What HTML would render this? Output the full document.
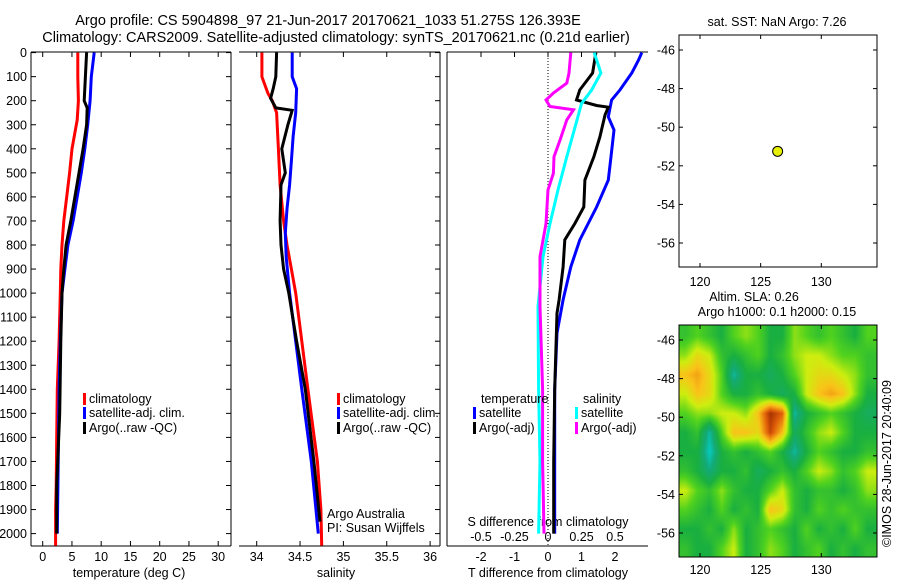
<!DOCTYPE html>
<html><head><meta charset="utf-8">
<style>
html,body{margin:0;padding:0;background:#fff;}
#wrap{position:relative;width:900px;height:580px;overflow:hidden;}
svg{position:absolute;left:0;top:0;}
text{font-family:"Liberation Sans",sans-serif;fill:#000;}
#heat{position:absolute;left:679px;top:325px;}
</style></head>
<body>
<div id="wrap">
<canvas id="heat" width="198" height="232"></canvas>
<svg id="chart" width="900" height="580"></svg>
</div>
<script>
// ---------- data ----------
const depthTicks = [0,100,200,300,400,500,600,700,800,900,1000,1100,1200,1300,1400,1500,1600,1700,1800,1900,2000];
const tempTicks = [0,5,10,15,20,25,30];
const salTicks = [34,34.5,35,35.5,36];
const salTickLabels = ["34","34.5","35","35.5","36"];
const tdiffTicks = [-2,-1,0,1,2];
const sdiffTicks = [-0.5,-0.25,0,0.25,0.5];
const sdiffLabels = ["-0.5","-0.25","0","0.25","0.5"];

const tClimD = [0,100,200,280,400,500,600,700,800,900,1000,1200,1400,1600,1800,1900,2050];
const tClim  = [6.0,6.0,6.1,5.9,5.0,4.6,4.1,3.6,3.3,3.1,3.0,2.8,2.5,2.4,2.3,2.2,2.2];
const tSatD  = [0,100,200,300,400,500,600,700,800,900,1000,1200,1400,1800,2000];
const tSat   = [8.8,8.3,8.1,7.7,7.2,6.6,5.9,5.2,4.3,3.8,3.3,3.0,2.8,2.6,2.5];
const tArgoD = [0,100,200,230,300,400,500,600,700,800,900,1000,1200,1500,1800,2000];
const tArgo  = [7.5,7.3,7.1,7.6,7.5,6.9,6.2,5.5,4.8,4.0,3.6,3.3,3.1,2.9,2.4,2.4];

const sClimD = [0,100,170,200,250,400,550,700,800,900,1000,1200,1400,1700,1900,2050];
const sClim  = [34.06,34.06,34.13,34.18,34.23,34.25,34.27,34.31,34.35,34.40,34.45,34.52,34.59,34.70,34.74,34.75];
const sSatD  = [0,100,150,250,350,450,550,650,750,850,1000,1200,1400,1700,2000];
const sSat   = [34.41,34.41,34.46,34.45,34.42,34.40,34.38,34.35,34.33,34.34,34.38,34.45,34.52,34.63,34.71];
const sArgoD = [0,100,150,190,230,240,300,400,500,550,700,800,900,1000,1200,1400,1700,1950];
const sArgo  = [34.23,34.22,34.19,34.16,34.22,34.41,34.36,34.29,34.33,34.28,34.27,34.28,34.31,34.37,34.46,34.56,34.66,34.73];

const dTSatD  = [0,31,85,155,197,267,322,433,530,642,779,891,1028,1166,1400,1700,2000];
const dTSat   = [2.8,2.7,2.5,2.15,1.9,1.8,1.97,1.88,1.8,1.45,0.95,0.68,0.45,0.27,0.2,0.2,0.2];
const dTArgoD = [0,85,155,197,220,227,260,350,433,530,642,711,779,891,1028,1083,1400,1700,2000];
const dTArgo  = [1.43,1.33,0.95,0.85,1.45,1.8,1.7,1.55,1.37,1.1,1.07,0.8,0.5,0.45,0.33,0.27,0.2,0.17,0.17];
const dSSatD  = [0,85,155,212,294,433,571,711,849,1056,1400,1700,2000];
const dSSat   = [0.345,0.395,0.326,0.25,0.21,0.14,0.075,0.015,-0.037,-0.075,-0.07,-0.06,-0.07];
const dSArgoD = [0,85,127,168,197,224,238,280,363,433,502,571,711,849,1056,1400,1700,2000];
const dSArgo  = [0.17,0.157,0.14,0.04,-0.015,0.015,0.19,0.14,0.09,0.045,0.04,0,-0.015,-0.06,-0.06,-0.04,-0.04,-0.03];

const lonTicks = [120,125,130];
const latTicks = [-46,-48,-50,-52,-54,-56];
const floatLon = [126.4];
const floatLat = [-51.25];

const slaLons = [118.8,119.8,120.8,121.8,122.8,123.8,124.8,125.8,126.8,127.8,128.8,129.8,130.8,131.8,132.8,133.8];
const slaLats = [-45.8,-46.8,-47.8,-48.8,-49.8,-50.8,-51.8,-52.8,-53.8,-54.8,-55.8,-56.8];
const slaGrid = [
 [0.05,0.1,0.05,0.0,0.1,0.15,0.1,0.0,0.0,0.15,0.1,0.05,0.1,0.05,0.0,0.1],
 [0.15,0.25,0.2,0.05,0.0,0.05,0.1,0.0,0.05,0.15,0.2,0.2,0.15,0.1,0.1,0.05],
 [0.3,0.35,0.25,0.1,-0.15,0.0,0.0,-0.05,0.0,0.1,0.2,0.25,0.25,0.2,0.15,0.05],
 [0.2,0.3,0.25,0.1,0.0,0.0,0.05,0.0,-0.05,0.0,0.2,0.3,0.35,0.3,0.15,0.0],
 [0.1,0.15,0.15,0.2,0.2,0.15,0.3,0.55,0.45,-0.15,0.0,0.05,0.1,0.05,0.0,-0.05],
 [0.0,0.05,-0.15,0.1,0.3,0.3,0.25,0.5,0.3,-0.05,0.05,0.15,0.2,0.1,0.0,0.0],
 [0.0,0.0,-0.2,0.0,0.05,0.0,0.05,0.1,0.0,-0.15,0.0,0.1,0.05,0.0,0.0,0.05],
 [0.05,0.0,-0.1,0.0,0.0,0.05,-0.05,0.0,0.05,0.0,0.1,0.2,0.15,0.05,0.1,0.2],
 [0.2,0.1,0.05,0.15,0.05,0.0,0.0,0.1,0.2,0.05,0.0,0.05,0.05,0.0,0.05,0.15],
 [0.1,0.05,0.0,0.1,0.0,0.05,0.0,0.3,0.25,0.05,0.0,0.1,0.05,0.1,0.05,0.05],
 [0.0,0.0,0.05,0.0,0.15,0.0,0.05,0.1,0.05,0.0,0.1,0.0,0.05,0.0,0.1,0.0],
 [0.05,0.0,0.0,0.1,0.2,0.0,0.05,0.15,0.1,0.0,0.05,0.1,0.0,0.05,0.0,0.05]
];

// ---------- scales ----------
const yD = d => 52.6 + d*0.2405;
const xT = t => 42.7 + t*5.85;
const xS = s => 256.7 + (s-34)*86.7;
const xDT = v => 548 + v*33.5;
const xDS = v => 548 + v*134;
const xLon = l => 700 + (l-120)*12.13;
const yLat1 = a => 50 + (-46-a)*19.3;
const yLat2 = a => 340 + (-46-a)*19.3;

const svg = document.getElementById('chart');
const NS = 'http://www.w3.org/2000/svg';
function mk(tag, attrs, parent){
  const e = document.createElementNS(NS, tag);
  for (const k in attrs) e.setAttribute(k, attrs[k]);
  (parent||svg).appendChild(e);
  return e;
}
function txt(x,y,s,size,anchor,name){
  const e = mk('text',{x:x,y:y,'font-size':size,'text-anchor':anchor||'start'});
  e.textContent = s;
  
  
  return e;
}
function line(x1,y1,x2,y2,name,extra){
  const e = mk('line',Object.assign({x1:x1,y1:y1,x2:x2,y2:y2,stroke:'#000','stroke-width':1},extra||{}));
  
  
  return e;
}
function profile(xs, ds, xf, color, name){
  const pts = xs.map((v,i)=> xf(v).toFixed(1)+','+yD(ds[i]).toFixed(1)).join(' ');
  const e = mk('polyline',{points:pts,fill:'none',stroke:color,'stroke-width':3,'stroke-linejoin':'miter'});
  
  
}

// titles
txt(328,25,'Argo profile: CS 5904898_97 21-Jun-2017 20170621_1033 51.275S 126.393E',14.5,'middle','title-line-1');
txt(336,42,'Climatology: CARS2009. Satellite-adjusted climatology: synTS_20170621.nc (0.21d earlier)',14.5,'middle','title-line-2');

const pTop=52, pBot=546;
line(31,pTop,231,pTop,'temp-panel-top');
line(31,pBot,231,pBot,'temp-panel-bottom');
line(31,pTop,31,pBot,'temp-panel-left');
line(231,pTop,231,pBot,'temp-panel-right');
line(239,pTop,440,pTop,'sal-panel-top');
line(239,pBot,440,pBot,'sal-panel-bottom');
line(440,pTop,440,pBot,'sal-panel-right');
line(447,pTop,648,pTop,'diff-panel-top');
line(447,pBot,648,pBot,'diff-panel-bottom');
line(447,pTop,447,pBot,'diff-panel-left');

depthTicks.forEach(d=>{
  const y=yD(d);
  line(31,y,36,y,'depth-tick-left');
  line(226,y,231,y,'depth-tick-right');
  line(435,y,440,y,'sal-depth-tick');
  txt(27,y+4.5,String(d),12.5,'end','depth-tick-label');
});
tempTicks.forEach(t=>{
  const x=xT(t);
  line(x,pBot,x,pBot-5,'temp-tick'); line(x,pTop,x,pTop+5,'temp-tick-top');
  txt(x,561,String(t),12.5,'middle','temp-tick-label');
});
txt(129,577,'temperature (deg C)',12.5,'middle','temp-axis-title');
salTicks.forEach((s,i)=>{
  const x=xS(s);
  line(x,pBot,x,pBot-5,'sal-tick'); line(x,pTop,x,pTop+5,'sal-tick-top');
  txt(x,561,salTickLabels[i],12.5,'middle','sal-tick-label');
});
txt(336,577,'salinity',12.5,'middle','sal-axis-title');
tdiffTicks.forEach(t=>{
  const x=xDT(t);
  line(x,pTop,x,pTop+5,'tdiff-tick-top');
  txt(x,561,String(t),12.5,'middle','tdiff-tick-label');
});
txt(548,577,'T difference from climatology',12.5,'middle','tdiff-axis-title');
sdiffTicks.forEach((s,i)=>{
  txt(xDS(s),541,sdiffLabels[i],12.5,'middle','sdiff-tick-label');
});
txt(548,526,'S difference from climatology',12.5,'middle','sdiff-axis-title');
line(548,pTop,548,pBot,'zero-line',{'stroke-dasharray':'1,2'});

profile(tClim,tClimD,xT,'#ff0000','temp-climatology-line');
profile(tSat,tSatD,xT,'#0000ff','temp-satellite-line');
profile(tArgo,tArgoD,xT,'#000000','temp-argo-line');
profile(sClim,sClimD,xS,'#ff0000','sal-climatology-line');
profile(sSat,sSatD,xS,'#0000ff','sal-satellite-line');
profile(sArgo,sArgoD,xS,'#000000','sal-argo-line');
profile(dTSat,dTSatD,xDT,'#0000ff','tdiff-satellite-line');
profile(dTArgo,dTArgoD,xDT,'#000000','tdiff-argo-line');
profile(dSSat,dSSatD,xDS,'#00ffff','sdiff-satellite-line');
profile(dSArgo,dSArgoD,xDS,'#ff00ff','sdiff-argo-line');

function legItem(x,y,color,label,name){
  const r = mk('rect',{x:x,y:y-10,width:3,height:12,fill:color});
  
  
  txt(x+6,y,label,12.5,'start',name);
}
legItem(83,403,'#ff0000','climatology','temp-legend-climatology');
legItem(83,417,'#0000ff','satellite-adj. clim.','temp-legend-satellite');
legItem(83,432,'#000000','Argo(..raw -QC)','temp-legend-argo');
legItem(337,403,'#ff0000','climatology','sal-legend-climatology');
legItem(337,417,'#0000ff','satellite-adj. clim.','sal-legend-satellite');
legItem(337,432,'#000000','Argo(..raw -QC)','sal-legend-argo');
txt(481,403,'temperature',12.5,'start','diff-legend-temp-header');
txt(583,403,'salinity',12.5,'start','diff-legend-sal-header');
legItem(473,417,'#0000ff','satellite','diff-legend-temp-satellite');
legItem(473,432,'#000000','Argo(-adj)','diff-legend-temp-argo');
legItem(575,417,'#00ffff','satellite','diff-legend-sal-satellite');
legItem(575,432,'#ff00ff','Argo(-adj)','diff-legend-sal-argo');
txt(327,518,'Argo Australia',12.5,'start','credit-argo-australia');
txt(327,532,'PI: Susan Wijffels',12.5,'start','credit-pi');

txt(777,26,'sat. SST: NaN Argo: 7.26',12.5,'middle','sst-map-title');
const m1 = mk('rect',{x:679,y:35,width:198,height:232,fill:'none',stroke:'#000','stroke-width':1});


lonTicks.forEach(l=>{
  const x=xLon(l);
  line(x,35,x,39,'sst-lon-tick'); line(x,267,x,263,'sst-lon-tick');
  txt(x,286,String(l),12.5,'middle','sst-lon-label');
  line(x,325,x,329,'sla-lon-tick'); line(x,557,x,553,'sla-lon-tick');
  txt(x,574,String(l),12.5,'middle','sla-lon-label');
});
latTicks.forEach(a=>{
  const y1=yLat1(a);
  line(679,y1,683,y1,'sst-lat-tick'); line(877,y1,873,y1,'sst-lat-tick');
  txt(675,y1+4.5,String(a),12.5,'end','sst-lat-label');
  const y2=yLat2(a);
  txt(675,y2+4.5,String(a),12.5,'end','sla-lat-label');
});
floatLon.forEach((l,i)=>{
  const c = mk('circle',{cx:xLon(l),cy:yLat1(floatLat[i]),r:5,fill:'#e6f000',stroke:'#000','stroke-width':1});
  
  
});

txt(754,301,'Altim. SLA: 0.26',12.5,'middle','sla-map-title-1');
txt(777,316,'Argo h1000: 0.1 h2000: 0.15',12.5,'middle','sla-map-title-2');
const m2 = mk('rect',{x:679,y:325,width:198,height:232,fill:'none',stroke:'#000','stroke-width':1});


latTicks.forEach(a=>{
  const y=yLat2(a);
  line(679,y,683,y,'sla-lat-tick'); line(877,y,873,y,'sla-lat-tick');
});
const cr = txt(0,0,'©IMOS 28-Jun-2017 20:40:09',12.5,'start','imos-credit');
cr.setAttribute('transform','translate(891,547) rotate(-90)');

const stops = [[-0.25,[0,220,230]],[-0.1,[20,170,120]],[0,[25,175,65]],[0.1,[80,210,30]],[0.2,[205,238,15]],[0.3,[250,195,25]],[0.45,[225,95,10]],[0.6,[140,30,0]]];
function cmap(v){
  if (v<=stops[0][0]) return stops[0][1];
  for (let i=1;i<stops.length;i++){
    if (v<=stops[i][0]){
      const f=(v-stops[i-1][0])/(stops[i][0]-stops[i-1][0]);
      return stops[i-1][1].map((c,k)=>Math.round(c+(stops[i][1][k]-c)*f));
    }
  }
  return stops[stops.length-1][1];
}
function sample(lon,lat){
  let fi=(lon-slaLons[0])/(slaLons[1]-slaLons[0]);
  let fj=(lat-slaLats[0])/(slaLats[1]-slaLats[0]);
  fi=Math.max(0,Math.min(slaLons.length-1.001,fi));
  fj=Math.max(0,Math.min(slaLats.length-1.001,fj));
  const i=Math.floor(fi), j=Math.floor(fj), A=fi-i, B=fj-j;
  return slaGrid[j][i]*(1-A)*(1-B)+slaGrid[j][i+1]*A*(1-B)+slaGrid[j+1][i]*(1-A)*B+slaGrid[j+1][i+1]*A*B;
}
const ctx = document.getElementById('heat').getContext('2d');
for (let py=0; py<232; py+=1){
  for (let px=0; px<198; px+=1){
    const lon = 120 + (679+px+0.5-700)/12.13;
    const lat = -46 - (325+py+0.5-340)/19.3;
    const c = cmap(sample(lon,lat));
    ctx.fillStyle='rgb('+c[0]+','+c[1]+','+c[2]+')';
    ctx.fillRect(px,py,1,1);
  }
}
</script>
</body></html>
